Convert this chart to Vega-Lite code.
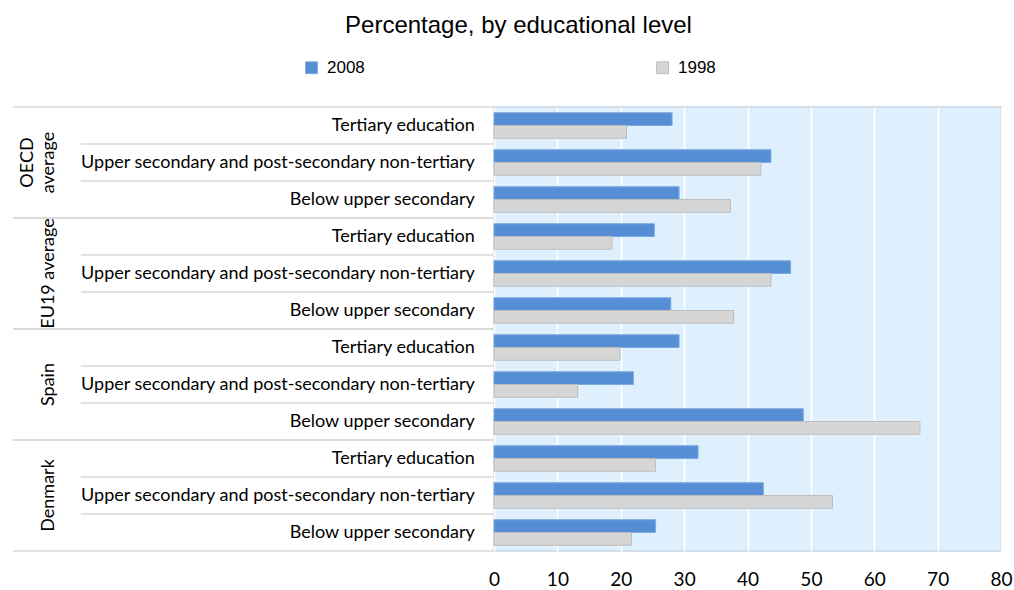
{
  "$schema": "https://vega.github.io/schema/vega-lite/v6.json",
  "background": "white",
  "bounds": "flush",
  "padding": {"left": 12, "top": 14, "right": 0, "bottom": 0},
  "config": {
    "view": {"stroke": null},
    "concat": {"spacing": 0},
    "text": {"font": "Lato", "fontSize": 18, "color": "#000000"}
  },
  "title": {
    "text": "Percentage, by educational level",
    "font": "Liberation Sans",
    "fontSize": 24,
    "fontWeight": "normal",
    "color": "#000000",
    "anchor": "middle",
    "dx": 6,
    "offset": 21
  },
  "datasets": {
    "bars": [
      {"group": "OECD average", "glabel": "OECD\naverage", "level": "Tertiary education", "key": "OECD average|Tertiary education", "year": "2008", "value": 28.1},
      {"group": "OECD average", "glabel": "OECD\naverage", "level": "Tertiary education", "key": "OECD average|Tertiary education", "year": "1998", "value": 20.9},
      {"group": "OECD average", "glabel": "OECD\naverage", "level": "Upper secondary and post-secondary non-tertiary", "key": "OECD average|Upper secondary and post-secondary non-tertiary", "year": "2008", "value": 43.7},
      {"group": "OECD average", "glabel": "OECD\naverage", "level": "Upper secondary and post-secondary non-tertiary", "key": "OECD average|Upper secondary and post-secondary non-tertiary", "year": "1998", "value": 42.1},
      {"group": "OECD average", "glabel": "OECD\naverage", "level": "Below upper secondary", "key": "OECD average|Below upper secondary", "year": "2008", "value": 29.2},
      {"group": "OECD average", "glabel": "OECD\naverage", "level": "Below upper secondary", "key": "OECD average|Below upper secondary", "year": "1998", "value": 37.3},
      {"group": "EU19 average", "glabel": "EU19 average", "level": "Tertiary education", "key": "EU19 average|Tertiary education", "year": "2008", "value": 25.3},
      {"group": "EU19 average", "glabel": "EU19 average", "level": "Tertiary education", "key": "EU19 average|Tertiary education", "year": "1998", "value": 18.6},
      {"group": "EU19 average", "glabel": "EU19 average", "level": "Upper secondary and post-secondary non-tertiary", "key": "EU19 average|Upper secondary and post-secondary non-tertiary", "year": "2008", "value": 46.8},
      {"group": "EU19 average", "glabel": "EU19 average", "level": "Upper secondary and post-secondary non-tertiary", "key": "EU19 average|Upper secondary and post-secondary non-tertiary", "year": "1998", "value": 43.7},
      {"group": "EU19 average", "glabel": "EU19 average", "level": "Below upper secondary", "key": "EU19 average|Below upper secondary", "year": "2008", "value": 27.9},
      {"group": "EU19 average", "glabel": "EU19 average", "level": "Below upper secondary", "key": "EU19 average|Below upper secondary", "year": "1998", "value": 37.8},
      {"group": "Spain", "glabel": "Spain", "level": "Tertiary education", "key": "Spain|Tertiary education", "year": "2008", "value": 29.2},
      {"group": "Spain", "glabel": "Spain", "level": "Tertiary education", "key": "Spain|Tertiary education", "year": "1998", "value": 19.9},
      {"group": "Spain", "glabel": "Spain", "level": "Upper secondary and post-secondary non-tertiary", "key": "Spain|Upper secondary and post-secondary non-tertiary", "year": "2008", "value": 22.0},
      {"group": "Spain", "glabel": "Spain", "level": "Upper secondary and post-secondary non-tertiary", "key": "Spain|Upper secondary and post-secondary non-tertiary", "year": "1998", "value": 13.2},
      {"group": "Spain", "glabel": "Spain", "level": "Below upper secondary", "key": "Spain|Below upper secondary", "year": "2008", "value": 48.8},
      {"group": "Spain", "glabel": "Spain", "level": "Below upper secondary", "key": "Spain|Below upper secondary", "year": "1998", "value": 67.2},
      {"group": "Denmark", "glabel": "Denmark", "level": "Tertiary education", "key": "Denmark|Tertiary education", "year": "2008", "value": 32.2},
      {"group": "Denmark", "glabel": "Denmark", "level": "Tertiary education", "key": "Denmark|Tertiary education", "year": "1998", "value": 25.5},
      {"group": "Denmark", "glabel": "Denmark", "level": "Upper secondary and post-secondary non-tertiary", "key": "Denmark|Upper secondary and post-secondary non-tertiary", "year": "2008", "value": 42.5},
      {"group": "Denmark", "glabel": "Denmark", "level": "Upper secondary and post-secondary non-tertiary", "key": "Denmark|Upper secondary and post-secondary non-tertiary", "year": "1998", "value": 53.4},
      {"group": "Denmark", "glabel": "Denmark", "level": "Below upper secondary", "key": "Denmark|Below upper secondary", "year": "2008", "value": 25.5},
      {"group": "Denmark", "glabel": "Denmark", "level": "Below upper secondary", "key": "Denmark|Below upper secondary", "year": "1998", "value": 21.7}
    ]
  },
  "hconcat": [
    {
      "width": 481,
      "height": 444,
      "data": {"name": "bars"},
      "transform": [{"filter": "datum.year == '2008'"}],
      "layer": [
        {
          "transform": [{"filter": "datum.level == 'Tertiary education'"}],
          "mark": {"type": "rule", "color": "#D9D9D9", "strokeWidth": 1.5},
          "encoding": {
            "y": {"field": "key", "type": "nominal", "bandPosition": 0, "axis": null, "scale": {"paddingInner": 0, "paddingOuter": 0, "domain": ["OECD average|Tertiary education", "OECD average|Upper secondary and post-secondary non-tertiary", "OECD average|Below upper secondary", "EU19 average|Tertiary education", "EU19 average|Upper secondary and post-secondary non-tertiary", "EU19 average|Below upper secondary", "Spain|Tertiary education", "Spain|Upper secondary and post-secondary non-tertiary", "Spain|Below upper secondary", "Denmark|Tertiary education", "Denmark|Upper secondary and post-secondary non-tertiary", "Denmark|Below upper secondary"]}},
            "x": {"datum": 0, "type": "quantitative", "axis": null, "scale": {"domain": [0, 1]}},
            "x2": {"datum": 1}
          }
        },
        {
          "transform": [{"filter": "datum.level == 'Below upper secondary'"}],
          "mark": {"type": "rule", "color": "#D9D9D9", "strokeWidth": 1.5},
          "encoding": {
            "y": {"field": "key", "type": "nominal", "bandPosition": 1, "axis": null, "scale": {"paddingInner": 0, "paddingOuter": 0, "domain": ["OECD average|Tertiary education", "OECD average|Upper secondary and post-secondary non-tertiary", "OECD average|Below upper secondary", "EU19 average|Tertiary education", "EU19 average|Upper secondary and post-secondary non-tertiary", "EU19 average|Below upper secondary", "Spain|Tertiary education", "Spain|Upper secondary and post-secondary non-tertiary", "Spain|Below upper secondary", "Denmark|Tertiary education", "Denmark|Upper secondary and post-secondary non-tertiary", "Denmark|Below upper secondary"]}},
            "x": {"datum": 0, "type": "quantitative", "axis": null, "scale": {"domain": [0, 1]}},
            "x2": {"datum": 1}
          }
        },
        {
          "transform": [{"filter": "datum.level != 'Tertiary education'"}],
          "mark": {"type": "rule", "color": "#D9D9D9", "strokeWidth": 1.5},
          "encoding": {
            "y": {"field": "key", "type": "nominal", "bandPosition": 0, "axis": null, "scale": {"paddingInner": 0, "paddingOuter": 0, "domain": ["OECD average|Tertiary education", "OECD average|Upper secondary and post-secondary non-tertiary", "OECD average|Below upper secondary", "EU19 average|Tertiary education", "EU19 average|Upper secondary and post-secondary non-tertiary", "EU19 average|Below upper secondary", "Spain|Tertiary education", "Spain|Upper secondary and post-secondary non-tertiary", "Spain|Below upper secondary", "Denmark|Tertiary education", "Denmark|Upper secondary and post-secondary non-tertiary", "Denmark|Below upper secondary"]}},
            "x": {"datum": 0.141, "type": "quantitative", "axis": null, "scale": {"domain": [0, 1]}},
            "x2": {"datum": 1}
          }
        },
        {
          "mark": {"type": "text", "align": "right", "baseline": "middle", "font": "Lato", "fontSize": 18, "color": "#000000"},
          "encoding": {
            "y": {"field": "key", "type": "nominal", "axis": null, "scale": {"paddingInner": 0, "paddingOuter": 0, "domain": ["OECD average|Tertiary education", "OECD average|Upper secondary and post-secondary non-tertiary", "OECD average|Below upper secondary", "EU19 average|Tertiary education", "EU19 average|Upper secondary and post-secondary non-tertiary", "EU19 average|Below upper secondary", "Spain|Tertiary education", "Spain|Upper secondary and post-secondary non-tertiary", "Spain|Below upper secondary", "Denmark|Tertiary education", "Denmark|Upper secondary and post-secondary non-tertiary", "Denmark|Below upper secondary"]}},
            "x": {"datum": 0.96, "type": "quantitative", "axis": null, "scale": {"domain": [0, 1]}},
            "text": {"field": "level"}
          }
        },
        {
          "transform": [{"filter": "datum.level == 'Upper secondary and post-secondary non-tertiary' && datum.group != 'OECD average'"}],
          "mark": {"type": "text", "align": "center", "baseline": "bottom", "angle": 270, "font": "Lato", "fontSize": 18, "color": "#000000"},
          "encoding": {
            "y": {"field": "key", "type": "nominal", "axis": null, "scale": {"paddingInner": 0, "paddingOuter": 0, "domain": ["OECD average|Tertiary education", "OECD average|Upper secondary and post-secondary non-tertiary", "OECD average|Below upper secondary", "EU19 average|Tertiary education", "EU19 average|Upper secondary and post-secondary non-tertiary", "EU19 average|Below upper secondary", "Spain|Tertiary education", "Spain|Upper secondary and post-secondary non-tertiary", "Spain|Below upper secondary", "Denmark|Tertiary education", "Denmark|Upper secondary and post-secondary non-tertiary", "Denmark|Below upper secondary"]}},
            "x": {"datum": 0.094, "type": "quantitative", "axis": null, "scale": {"domain": [0, 1]}},
            "text": {"field": "glabel"}
          }
        },
        {
          "transform": [{"filter": "datum.level == 'Upper secondary and post-secondary non-tertiary' && datum.group == 'OECD average'"}],
          "mark": {"type": "text", "align": "center", "baseline": "bottom", "angle": 270, "dy": -21, "lineBreak": "\n", "lineHeight": 21, "font": "Lato", "fontSize": 18, "color": "#000000"},
          "encoding": {
            "y": {"field": "key", "type": "nominal", "axis": null, "scale": {"paddingInner": 0, "paddingOuter": 0, "domain": ["OECD average|Tertiary education", "OECD average|Upper secondary and post-secondary non-tertiary", "OECD average|Below upper secondary", "EU19 average|Tertiary education", "EU19 average|Upper secondary and post-secondary non-tertiary", "EU19 average|Below upper secondary", "Spain|Tertiary education", "Spain|Upper secondary and post-secondary non-tertiary", "Spain|Below upper secondary", "Denmark|Tertiary education", "Denmark|Upper secondary and post-secondary non-tertiary", "Denmark|Below upper secondary"]}},
            "x": {"datum": 0.094, "type": "quantitative", "axis": null, "scale": {"domain": [0, 1]}},
            "text": {"field": "glabel"}
          }
        }
      ]
    },
    {
      "width": 507,
      "height": 444,
      "view": {"fill": "#DEF0FD", "stroke": "#C9D6E2", "strokeWidth": 1.5},
      "data": {"name": "bars"},
      "mark": {"type": "bar", "strokeWidth": 1},
      "encoding": {
        "y": {"field": "key", "type": "nominal", "axis": null, "scale": {"paddingInner": 0.31, "paddingOuter": 0.155, "domain": ["OECD average|Tertiary education", "OECD average|Upper secondary and post-secondary non-tertiary", "OECD average|Below upper secondary", "EU19 average|Tertiary education", "EU19 average|Upper secondary and post-secondary non-tertiary", "EU19 average|Below upper secondary", "Spain|Tertiary education", "Spain|Upper secondary and post-secondary non-tertiary", "Spain|Below upper secondary", "Denmark|Tertiary education", "Denmark|Upper secondary and post-secondary non-tertiary", "Denmark|Below upper secondary"]}},
        "yOffset": {"field": "year", "type": "nominal", "scale": {"domain": ["2008", "1998"], "paddingInner": 0, "paddingOuter": 0}},
        "x": {
          "field": "value",
          "type": "quantitative",
          "scale": {"domain": [0, 80], "nice": false, "zero": true},
          "axis": {
            "title": null,
            "values": [0, 10, 20, 30, 40, 50, 60, 70, 80],
            "domain": false,
            "ticks": false,
            "grid": true,
            "gridColor": "#FFFFFF",
            "gridWidth": 1.5,
            "labelFont": "Lato",
            "labelFontSize": 19,
            "labelColor": "#000000",
            "labelPadding": 19,
            "labelBaseline": "top",
            "labelFlush": false
          }
        },
        "color": {
          "field": "year",
          "type": "nominal",
          "scale": {"domain": ["2008", "1998"], "range": ["#558ED5", "#D6D6D6"]},
          "legend": {
            "title": null,
            "orient": "none",
            "legendX": 290,
            "legendY": -48,
            "direction": "horizontal",
            "columns": 2,
            "columnPadding": 289,
            "padding": 0,
            "symbolType": "square",
            "symbolSize": 140,
            "symbolStrokeWidth": 1,
            "labelFont": "Liberation Sans",
            "labelFontSize": 17,
            "labelColor": "#000000",
            "labelOffset": 7
          }
        },
        "stroke": {
          "field": "year",
          "type": "nominal",
          "scale": {"domain": ["2008", "1998"], "range": ["#7EA8DE", "#BDBDBD"]},
          "legend": null
        }
      }
    }
  ]
}
